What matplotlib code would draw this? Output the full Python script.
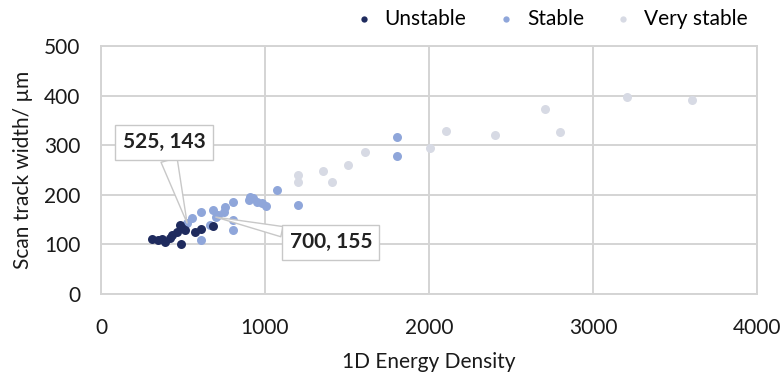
import numpy as np
import matplotlib.pyplot as plt

plt.rcParams["font.family"] = ["Lato", "DejaVu Sans"]

# 1D energy density vs scan track width (um)
unstable_x = [309, 370, 390, 431, 461, 492, 482, 512, 486, 573, 608, 681, 350, 420]
unstable_y = [111, 111, 105, 119, 126, 133, 139, 129, 101, 126, 131, 137, 108, 113]

stable_x = [525, 553, 608, 685, 700, 713, 756, 807, 909, 807, 807, 608, 665, 980,
            929, 1006, 1071, 1203, 1803, 1803, 900, 950, 750]
stable_y = [143, 153, 166, 169, 155, 159, 176, 186, 196, 149, 129, 109, 139, 183,
            193, 177, 210, 179, 317, 278, 190, 185, 165]

vstable_x = [1203, 1203, 1352, 1406, 1504, 1610, 2006, 2102, 2402, 2707, 2799, 3205, 3602]
vstable_y = [240, 226, 247, 225, 260, 287, 294, 329, 321, 374, 327, 398, 391]

callouts = [(525, 143), (700, 155)]

fig = plt.figure(figsize=(7.84, 3.78), dpi=100)
ax = fig.add_axes([0.1288, 0.2222, 0.8368, 0.6561])

ax.scatter(vstable_x, vstable_y, s=42, color="#d7dae4", label="Very stable", zorder=3, linewidths=0)
ax.scatter(stable_x, stable_y, s=42, color="#8fa6da", label="Stable", zorder=4, linewidths=0)
ax.scatter(unstable_x, unstable_y, s=42, color="#1f2b5e", label="Unstable", zorder=5, linewidths=0)

ax.set_xlim(0, 4000)
ax.set_ylim(0, 500)
ax.set_xticks(np.arange(0, 4001, 1000))
ax.set_yticks(np.arange(0, 501, 100))
ax.grid(True, color="#d4d4d4", linewidth=1.4)
ax.set_axisbelow(True)
for s in ax.spines.values():
    s.set_color("#d4d4d4")
    s.set_linewidth(1.4)
ax.tick_params(length=0, labelsize=15, colors="#1a1a1a")
ax.tick_params(axis="y", pad=15)
ax.tick_params(axis="x", pad=17)

ax.set_xlabel("1D Energy Density", fontsize=15, color="#1a1a1a", labelpad=10)
ax.set_ylabel("Scan track width/ \u00b5m", fontsize=15, color="#1a1a1a", labelpad=8)

box = dict(boxstyle="square,pad=0.35", fc="white", ec="#c8c8c8", lw=1)
ax.annotate("{}, {}".format(*callouts[0]), xy=callouts[0], xytext=(384, 306),
            ha="center", va="center", fontsize=15, fontweight="bold", color="#222222",
            bbox=box, zorder=6,
            arrowprops=dict(arrowstyle="wedge,tail_width=0.8", fc="white", ec="#c8c8c8",
                            lw=1, shrinkA=0, shrinkB=0))
ax.annotate("{}, {}".format(*callouts[1]), xy=callouts[1], xytext=(1402, 104),
            ha="center", va="center", fontsize=15, fontweight="bold", color="#222222",
            bbox=box, zorder=6,
            arrowprops=dict(arrowstyle="wedge,tail_width=0.5", fc="white", ec="#c8c8c8",
                            lw=1, shrinkA=0, shrinkB=0))

handles, labels = ax.get_legend_handles_labels()
order = [2, 1, 0]
ax.legend([handles[i] for i in order], [labels[i] for i in order], loc="lower right",
          bbox_to_anchor=(1.005, 1.02), ncol=3, frameon=False, fontsize=15,
          handletextpad=0.0, columnspacing=0.9, markerscale=0.7, borderaxespad=0.2)

fig.savefig("out.png", dpi=100)
